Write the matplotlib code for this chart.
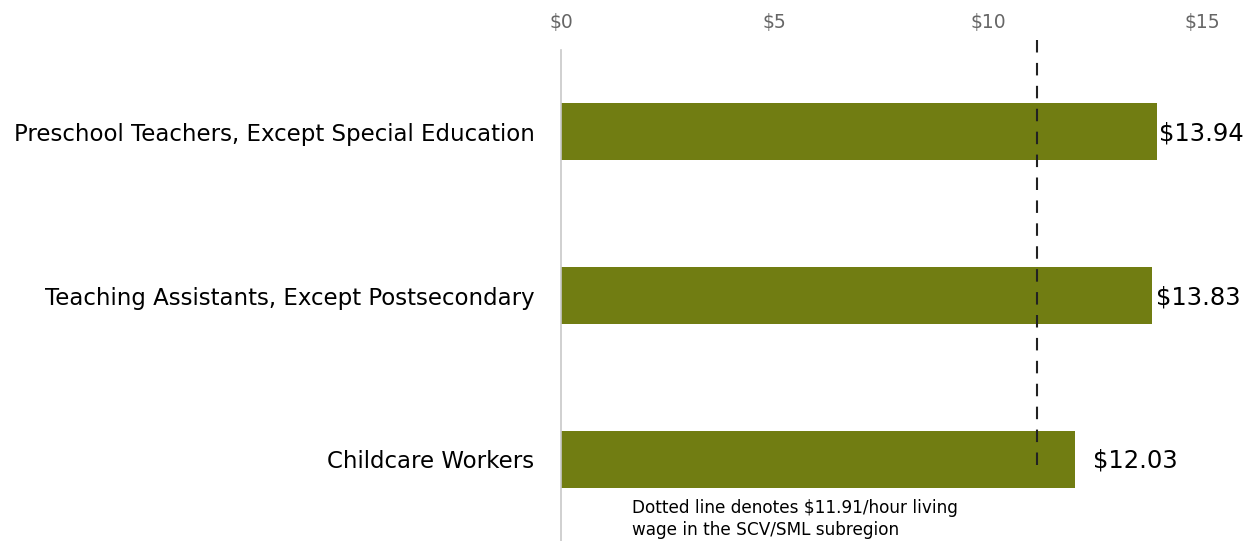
import matplotlib
matplotlib.use("Agg")
import matplotlib.pyplot as plt

categories = ["Preschool Teachers, Except Special Education",
              "Teaching Assistants, Except Postsecondary",
              "Childcare Workers"]
wages = [13.94, 13.83, 12.03]
wage_labels = ["$13.94", "$13.83", "$12.03"]
ticks = [0, 5, 10, 15]
tick_labels = ["$0", "$5", "$10", "$15"]
living_wage_line = 11.15  # where the dashed line sits in the picture
note = "Dotted line denotes $11.91/hour living\nwage in the SCV/SML subregion"

plt.rcParams['font.family'] = ['DejaVu Sans']

fig = plt.figure(figsize=(12.56, 5.41), dpi=100)
ax = fig.add_axes([561/1256, 0, (1202-561)/1256, 491/541])

y = range(len(categories))
ax.barh(y, wages, height=0.35, color="#717D12")
ax.set_ylim(2.5, -0.5)
ax.set_xlim(0, 15)

# label offsets (in $) as seen in the picture
offs = [0.05, 0.1, 0.42]
for yi, w, lab, o in zip(y, wages, wage_labels, offs):
    ax.text(w + o, yi + 0.01, lab, va="center", ha="left", fontsize=17.5, color="black")

ax.plot([living_wage_line, living_wage_line], [-0.56, 2.06], color="#222222",
        linestyle=(0, (6, 5)), linewidth=1.5, clip_on=False)

ax.text(1.66, 2.245, note, va="top", ha="left", fontsize=12.2, color="black", linespacing=1.25)

ax.xaxis.tick_top()
ax.set_xticks(ticks)
ax.set_xticklabels(tick_labels, fontsize=13.5, color="#666666")
ax.tick_params(axis="x", length=0, pad=13)
ax.set_yticks(list(y))
ax.set_yticklabels(categories, fontsize=16.5)
ax.tick_params(axis="y", length=0, pad=19)

for s in ["top", "right", "bottom"]:
    ax.spines[s].set_visible(False)
ax.spines["left"].set_color("#c8c8c8")
ax.spines["left"].set_linewidth(1.2)

fig.savefig("out.png", dpi=100)
